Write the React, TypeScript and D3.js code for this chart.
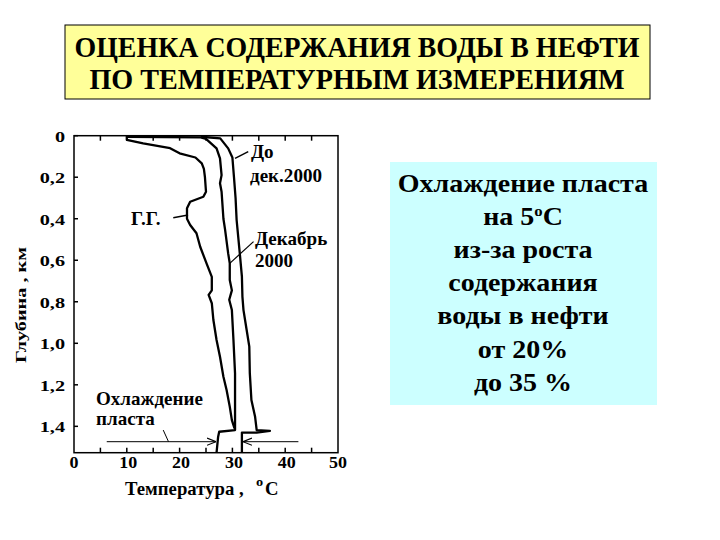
import * as d3 from "d3";
import type { ReactNode } from "react";

// depth profiles: [temperature °C, depth km]
const ggCurve: [number, number][] = [
  [10, 0], [10, 0.02], [13.1, 0.037], [18.2, 0.06], [20.0, 0.085], [23.0, 0.105],
  [24.2, 0.133], [24.6, 0.16], [24.8, 0.2], [25.0, 0.27], [24.5, 0.294],
  [22.0, 0.318], [21.4, 0.35], [21.4, 0.4], [22.0, 0.43], [23.2, 0.47],
  [23.9, 0.535], [25.1, 0.615], [26.1, 0.68], [26.1, 0.745], [25.5, 0.767],
  [26.1, 0.807], [26.4, 0.888], [27.0, 0.984], [27.65, 1.065], [28.3, 1.161],
  [28.9, 1.225], [29.5, 1.305], [29.9, 1.37], [30.4, 1.41],
];

const dec2000Curve: [number, number][] = [
  [10, 0.005], [24.0, 0.008], [25.0, 0.015], [27.0, 0.061], [27.65, 0.109],
  [27.95, 0.19], [27.65, 0.229], [27.95, 0.27], [28.3, 0.4], [28.6, 0.45],
  [29.2, 0.567], [29.5, 0.615], [29.5, 0.695], [29.9, 0.745], [29.4, 0.79],
  [29.9, 0.84], [30.2, 0.984], [30.5, 1.145], [30.5, 1.273], [30.5, 1.418],
  [27.5, 1.426], [27.3, 1.45], [27.0, 1.527],
];

const beforeDecCurve: [number, number][] = [
  [24.0, 0.005], [27.7, 0.013], [29.2, 0.061], [30.0, 0.105], [30.3, 0.2],
  [30.6, 0.3], [30.8, 0.406], [31.4, 0.567], [31.8, 0.679], [31.9, 0.776],
  [32.1, 0.84], [32.7, 0.936], [33.2, 1.016], [33.3, 1.145], [33.6, 1.273],
  [34.3, 1.354], [34.6, 1.418], [37.1, 1.422], [34.6, 1.43], [31.8, 1.43],
  [31.8, 1.527],
];

const tempTicks = [0, 10, 20, 30, 40, 50];
const tempMinorTicks = [5, 10, 15, 20, 25, 30, 35, 40, 45];
const depthTicks = [0, 0.2, 0.4, 0.6, 0.8, 1.0, 1.2, 1.4];
const depthTickLabels = ["0", "0,2", "0,4", "0,6", "0,8", "1,0", "1,2", "1,4"];

const titleLines = ["ОЦЕНКА СОДЕРЖАНИЯ ВОДЫ В НЕФТИ", "ПО ТЕМПЕРАТУРНЫМ ИЗМЕРЕНИЯМ"];
const noteLines = ["Охлаждение пласта", "на 5°C", "из-за роста", "содержания", "воды в нефти", "от 20%", "до 35 %"];

const FONT = '"Liberation Serif", "DejaVu Serif", serif';

// text stretched horizontally, like the wide slide font of the original
function SText(props: {
  x: number;
  y: number;
  size: number;
  sx?: number;
  anchor?: "start" | "middle" | "end";
  rotate?: number;
  children: ReactNode;
}) {
  const { x, y, size, sx = 1.06, anchor = "start", rotate = 0, children } = props;
  return (
    <text
      transform={`translate(${x},${y}) rotate(${rotate}) scale(${sx},1)`}
      textAnchor={anchor}
      fontSize={size}
      fill="#000"
    >
      {children}
    </text>
  );
}

export default function App() {
  const x = d3.scaleLinear().domain([0, 50]).range([74, 338]);
  const y = d3.scaleLinear().domain([0, 1.527]).range([135.7, 452.7]);
  const line = d3
    .line<[number, number]>()
    .x((d) => x(d[0]))
    .y((d) => y(d[1]));

  const curves = [ggCurve, dec2000Curve, beforeDecCurve];
  const arrowDepth = 1.474;

  return (
    <svg
      width={720}
      height={540}
      style={{ position: "absolute", left: 0, top: 0, background: "#fff", fontFamily: FONT, fontWeight: "bold" }}
    >
      <defs>
        <marker id="arr" viewBox="0 0 10 10" refX="10" refY="5" markerWidth="9" markerHeight="9" orient="auto-start-reverse" markerUnits="userSpaceOnUse">
          <path d="M0,1 L10,5 L0,9" fill="none" stroke="#000" strokeWidth={1.2} />
        </marker>
      </defs>

      {/* title */}
      <rect x={65} y={25} width={585} height={74} fill="#FFFF99" stroke="#000" strokeWidth={1} />
      {titleLines.map((t, i) => (
        <text
          key={t}
          x={357}
          y={57 + i * 31.5}
          textAnchor="middle"
          fontSize={30}
          textLength={i === 0 ? 565 : 535}
          lengthAdjust="spacingAndGlyphs"
          fill="#000"
        >
          {t}
        </text>
      ))}

      {/* note box */}
      <rect x={390} y={162} width={267} height={243} fill="#CCFFFF" />
      {noteLines.map((t, i) => (
        <SText key={t} x={523} y={192 + i * 33.1} size={25} sx={1.12} anchor="middle">
          {t === "на 5°C" ? (
            <>
              на 5<tspan dy={-9} fontSize={15}>o</tspan>
              <tspan dy={9}>C</tspan>
            </>
          ) : (
            t
          )}
        </SText>
      ))}

      {/* frame and ticks */}
      <rect x={x(0)} y={y(0)} width={x(50) - x(0)} height={y(1.527) - y(0)} fill="none" stroke="#000" strokeWidth={1.5} />
      {tempMinorTicks.map((t) => (
        <g key={t}>
          <line x1={x(t)} x2={x(t)} y1={y(1.527)} y2={y(1.527) - 5} stroke="#000" strokeWidth={1.5} />
          <line x1={x(t)} x2={x(t)} y1={y(0)} y2={y(0) + 5} stroke="#000" strokeWidth={1.5} />
        </g>
      ))}
      {depthTicks.map((d, i) => (
        <g key={d}>
          <line x1={x(0)} x2={x(0) + 4} y1={y(d)} y2={y(d)} stroke="#000" strokeWidth={1.5} />
          <SText x={65} y={y(d) + 6} size={15} sx={1.35} anchor="end">
            {depthTickLabels[i]}
          </SText>
        </g>
      ))}
      {tempTicks.map((t) => (
        <SText key={t} x={x(t) + (t > 0 && t < 50 ? 1.5 : 0)} y={468} size={17} anchor="middle">
          {t}
        </SText>
      ))}

      {/* axis titles */}
      <SText x={26} y={305} size={15} sx={1.35} rotate={-90} anchor="middle">
        Глубина , км
      </SText>
      <SText x={125} y={495} size={18} sx={1.04}>
        Температура ,
      </SText>
      <SText x={256} y={486} size={13} sx={1.1}>o</SText>
      <SText x={265} y={495} size={18} sx={1.04}>C</SText>

      {/* curves */}
      {curves.map((c, i) => (
        <path key={i} d={line(c) ?? ""} fill="none" stroke="#000" strokeWidth={2.3} strokeLinejoin="round" />
      ))}

      {/* labels and pointers */}
      <SText x={131} y={225} size={18}>Г.Г.</SText>
      <line x1={x(18.8)} y1={y(0.395)} x2={x(21.6)} y2={y(0.382)} stroke="#000" strokeWidth={1.5} />

      <SText x={251} y={158} size={18}>До</SText>
      <SText x={250} y={182} size={18}>дек.2000</SText>
      <line x1={x(33.0)} y1={y(0.077)} x2={x(30.5)} y2={y(0.109)} stroke="#000" strokeWidth={1.5} />

      <SText x={255} y={245} size={18}>Декабрь</SText>
      <SText x={255} y={267} size={18}>2000</SText>
      <line x1={x(34.0)} y1={y(0.51)} x2={x(29.5)} y2={y(0.615)} stroke="#000" strokeWidth={1.2} />

      <SText x={96} y={405} size={18}>Охлаждение</SText>
      <SText x={96} y={425} size={18}>пласта</SText>
      <line x1={x(16.9)} y1={y(1.418)} x2={x(17.9)} y2={y(arrowDepth)} stroke="#000" strokeWidth={1} />

      <line x1={x(6.2)} y1={y(arrowDepth)} x2={x(26.9)} y2={y(arrowDepth)} stroke="#000" strokeWidth={1} markerEnd="url(#arr)" />
      <line x1={x(42.5)} y1={y(arrowDepth)} x2={x(32.0)} y2={y(arrowDepth)} stroke="#000" strokeWidth={1} markerEnd="url(#arr)" />
    </svg>
  );
}
